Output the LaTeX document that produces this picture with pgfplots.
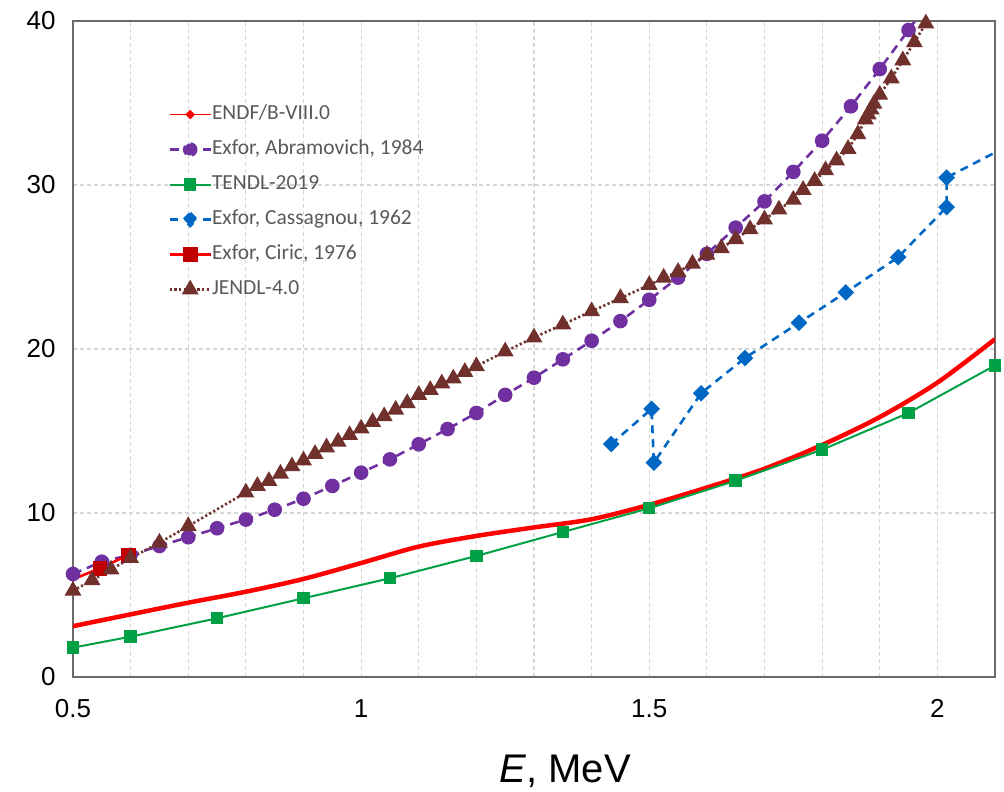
\documentclass[border=0pt]{standalone}
\usepackage{fontspec}
\setmainfont{Liberation Sans}
\newfontfamily\legendfont{Carlito}
\usepackage{pgfplots}
\pgfplotsset{compat=1.18}

\definecolor{endfred}{HTML}{FF0000}
\definecolor{abrpurple}{HTML}{7030A0}
\definecolor{tendlgreen}{HTML}{00A045}
\definecolor{casblue}{HTML}{0068C4}
\definecolor{ciricred}{HTML}{C00000}
\definecolor{jendlbrown}{HTML}{70302C}
\definecolor{gridgray}{HTML}{D6D6D6}
\definecolor{framegray}{HTML}{6A6A6A}
\definecolor{legtext}{HTML}{595959}

\begin{document}
\begin{tikzpicture}
\useasboundingbox (0,0) rectangle (1004pt,792pt);
\begin{axis}[
  at={(73pt,115pt)}, anchor=south west,
  scale only axis, width=922pt, height=656pt,
  xmin=0.5, xmax=2.1, ymin=0, ymax=40,
  xtick={0.5,1,1.5,2}, xticklabels={0.5,1,1.5,2},
  minor xtick={0.6,0.7,0.8,0.9,1.1,1.2,1.3,1.4,1.6,1.7,1.8,1.9},
  ytick={0,10,20,30,40},
  xmajorgrids, xminorgrids, ymajorgrids,
  major grid style={draw=gridgray, line width=1.2pt, dash pattern=on 4pt off 3pt},
  minor grid style={draw=gridgray, line width=1.2pt, dash pattern=on 4pt off 3pt},
  major tick length=0pt, minor tick length=0pt,
  axis line style={draw=framegray, line width=1.8pt},
  /pgf/number format/assume math mode=true,
  tick label style={font=\fontsize{26}{30}\selectfont, text=black},
  yticklabel style={xshift=-14pt},
  xticklabel style={yshift=-19pt},
  xlabel={\textit{E}, MeV},
  xlabel style={at={(axis description cs:0.534,0)}, anchor=base, yshift=-106pt,
                font=\fontsize{40}{48}\selectfont},
  legend cell align=left,
  legend style={at={(0.1,0.876)}, anchor=north west, draw=none, fill=none,
                font=\legendfont\fontsize{21.5}{24}\selectfont, text=legtext,
                row sep=15pt,
                nodes={inner xsep=0pt, inner ysep=0pt, text height=15pt, text depth=5pt}},
  legend image code/.code={\draw[mark repeat=2,mark phase=2,#1]
      plot coordinates {(0pt,0pt) (20.5pt,0pt) (41pt,0pt)};},
  clip=true,
]

% ENDF/B-VIII.0 evaluation (smooth curve)
\addplot[endfred, line width=4.5pt, smooth, tension=0.5, no marks,
  legend image code/.code={\draw[endfred, line width=1.5pt] (0pt,0pt) -- (41pt,0pt);
                           \fill[endfred] (20.5pt,0pt) circle (1.6pt);}]
  table {
x y
0.5 3.1
0.6 3.82
0.7 4.53
0.8 5.2
0.9 5.98
1.0 6.95
1.1 7.95
1.2 8.6
1.3 9.12
1.4 9.62
1.5 10.5
1.6 11.55
1.7 12.7
1.8 14.15
1.9 15.85
2.0 17.95
2.1 20.6
};
\addlegendentry{ENDF/B-VIII.0}

% Abramovich, 1984
\addplot[abrpurple, line width=2.6pt, dash pattern=on 9pt off 6pt,
  mark=*, mark size=6pt, mark options={solid, fill=abrpurple, draw=abrpurple},
  legend image code/.code={\draw[abrpurple, line width=2.6pt] (0pt,0pt) -- (9pt,0pt);
                           \draw[abrpurple, line width=2.6pt] (33pt,0pt) -- (41pt,0pt);
                           \fill[abrpurple] (20.5pt,0pt) circle (6pt);}]
  table {
x y
0.5 6.28
0.55 7.03
0.6 7.45
0.65 7.99
0.7 8.52
0.75 9.07
0.8 9.6
0.85 10.2
0.9 10.87
0.95 11.65
1.0 12.46
1.05 13.27
1.1 14.19
1.15 15.12
1.2 16.1
1.25 17.2
1.3 18.25
1.35 19.37
1.4 20.5
1.45 21.7
1.5 23.0
1.55 24.35
1.6 25.8
1.65 27.4
1.7 29.0
1.75 30.8
1.8 32.7
1.85 34.8
1.9 37.07
1.95 39.45
2.0 41.9
};
\addlegendentry{Exfor, Abramovich, 1984}

% TENDL-2019
\addplot[tendlgreen, line width=2pt,
  mark=square*, mark size=5.2pt, mark options={fill=tendlgreen, draw=tendlgreen}]
  table {
x y
0.5 1.79
0.6 2.46
0.75 3.58
0.9 4.8
1.05 6.02
1.2 7.38
1.35 8.84
1.5 10.29
1.65 11.97
1.8 13.86
1.95 16.1
2.1 19.0
};
\addlegendentry{TENDL-2019}

% Cassagnou, 1962
\addplot[casblue, line width=2.6pt, dash pattern=on 8pt off 6pt,
  mark=square*, mark size=4.6pt, mark options={solid, rotate=45, fill=casblue, draw=casblue},
  legend image code/.code={\draw[casblue, line width=2.6pt] (0pt,0pt) -- (9pt,0pt);
                           \draw[casblue, line width=2.6pt] (33pt,0pt) -- (41pt,0pt);
                           \fill[casblue] (20.5pt,6.5pt) -- (27pt,0pt) -- (20.5pt,-6.5pt)
                                          -- (14pt,0pt) -- cycle;}]
  table {
x y
1.434 14.2
1.504 16.35
1.508 13.07
1.59 17.3
1.666 19.45
1.76 21.6
1.841 23.45
1.932 25.6
2.016 28.65
2.016 30.45
2.2 33.8
};
\addlegendentry{Exfor, Cassagnou, 1962}

% Ciric, 1976
\addplot[endfred, line width=2.6pt, mark indices={2,3},
  mark=square*, mark size=6pt, mark options={fill=ciricred, draw=ciricred},
  legend image code/.code={\draw[endfred, line width=2.6pt] (0pt,0pt) -- (41pt,0pt);
                           \fill[ciricred] (14.5pt,-6pt) rectangle (26.5pt,6pt);}]
  table {
x y
0.5 5.96
0.547 6.63
0.596 7.44
};
\addlegendentry{Exfor, Ciric, 1976}

% JENDL-4.0
\addplot[jendlbrown, line width=2.6pt, dash pattern=on 2.2pt off 2.4pt,
  mark=triangle*, mark size=7.2pt, mark options={solid, fill=jendlbrown, draw=jendlbrown}]
  table {
x y
0.5 5.26
0.533 5.9
0.566 6.55
0.6 7.25
0.65 8.19
0.7 9.2
0.8 11.25
0.82 11.65
0.84 11.95
0.86 12.4
0.88 12.85
0.9 13.2
0.92 13.6
0.94 14.0
0.96 14.35
0.98 14.75
1.0 15.15
1.02 15.55
1.04 15.9
1.06 16.3
1.08 16.7
1.10 17.2
1.12 17.5
1.14 17.9
1.16 18.2
1.18 18.6
1.2 18.95
1.25 19.85
1.3 20.7
1.35 21.5
1.4 22.3
1.45 23.1
1.5 23.9
1.525 24.35
1.55 24.7
1.575 25.2
1.6 25.75
1.625 26.15
1.65 26.7
1.675 27.3
1.7 27.9
1.725 28.5
1.75 29.1
1.767 29.7
1.787 30.25
1.806 30.9
1.825 31.5
1.845 32.2
1.862 33.1
1.875 34.0
1.88 34.3
1.885 34.6
1.89 34.95
1.9 35.5
1.92 36.5
1.94 37.6
1.96 38.7
1.98 39.85
};
\addlegendentry{JENDL-4.0}

\end{axis}
\end{tikzpicture}
\end{document}
